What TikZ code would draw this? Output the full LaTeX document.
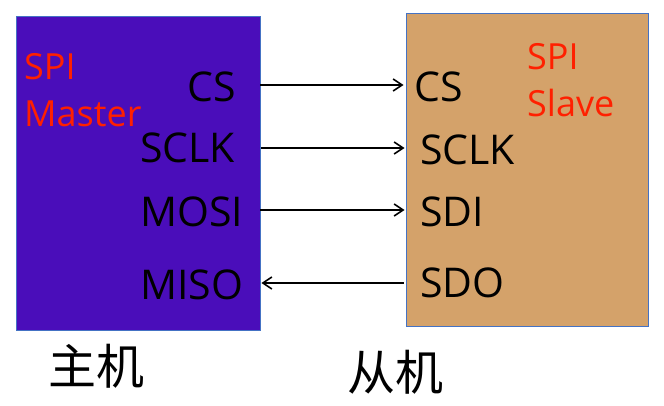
\documentclass[tikz,border=0pt]{standalone}
\usepackage{fontspec}
\setmainfont{Open Sans}
\newfontfamily\cjk{Noto Sans CJK SC}
\usetikzlibrary{arrows.meta, positioning}
\definecolor{masterfill}{RGB}{74,13,186}
\definecolor{slavefill}{RGB}{212,162,106}
\definecolor{boxline}{RGB}{68,114,196}
\definecolor{spired}{RGB}{255,32,0}
\tikzset{
    chip/.style={rectangle, draw=boxline, line width=0.8pt, inner sep=0pt},
    pin/.style={anchor=base west, inner sep=0pt, font=\fontsize{41}{48}\selectfont},
    role/.style={anchor=base west, inner sep=0pt, align=left, text=spired, font=\fontsize{36}{47}\selectfont},
    caption/.style={inner sep=0pt, font=\cjk\fontsize{48}{52}\selectfont},
    wire/.style={-{Straight Barb[length=9pt, width=12pt]}, line width=1.6pt},
}

\begin{document}
\begin{tikzpicture}[x=1pt, y=-1pt]
    \useasboundingbox (0,0) rectangle (664,406);

    % the two devices
    \node[chip, fill=masterfill, minimum width=244pt, minimum height=314pt] (master) at (138,173) {};
    \node[chip, fill=slavefill, minimum width=242pt, minimum height=313pt] (slave) at (527,169.5) {};

    % device roles
    \node[role] (mrole) at (24,127) {SPI\\Master};
    \node[role] (srole) at (527,117) {SPI\\Slave};

    % master pins
    \node[pin] (mcs) at (187,102) {CS};
    \node[pin] (msclk) at (140,163) {SCLK};
    \node[pin] (mmosi) at (140,226) {MOSI};
    \node[pin] (mmiso) at (140,299) {MISO};

    % slave pins
    \node[pin] (scs) at (414,102) {CS};
    \node[pin] (ssclk) at (420,165) {SCLK};
    \node[pin] (ssdi) at (420,226) {SDI};
    \node[pin] (ssdo) at (420,297) {SDO};

    % signal levels
    \coordinate (cs) at (0,85);
    \coordinate (sclk) at (0,148);
    \coordinate (mosi) at (0,210);
    \coordinate (miso) at (0,283);

    % wires
    \draw[wire] (master.east |- cs) -- ([xshift=-2pt]slave.west |- cs);
    \draw[wire] ([xshift=1pt]master.east |- sclk) -- ([xshift=-1pt]slave.west |- sclk);
    \draw[wire] (master.east |- mosi) -- ([xshift=-1pt]slave.west |- mosi);
    \draw[wire] ([xshift=-2pt]slave.west |- miso) -- ([xshift=1pt]master.east |- miso);

    % captions
    \node[caption] (mcap) at (96,366) {主机};
    \node[caption] (scap) at (395,372) {从机};
\end{tikzpicture}
\end{document}
